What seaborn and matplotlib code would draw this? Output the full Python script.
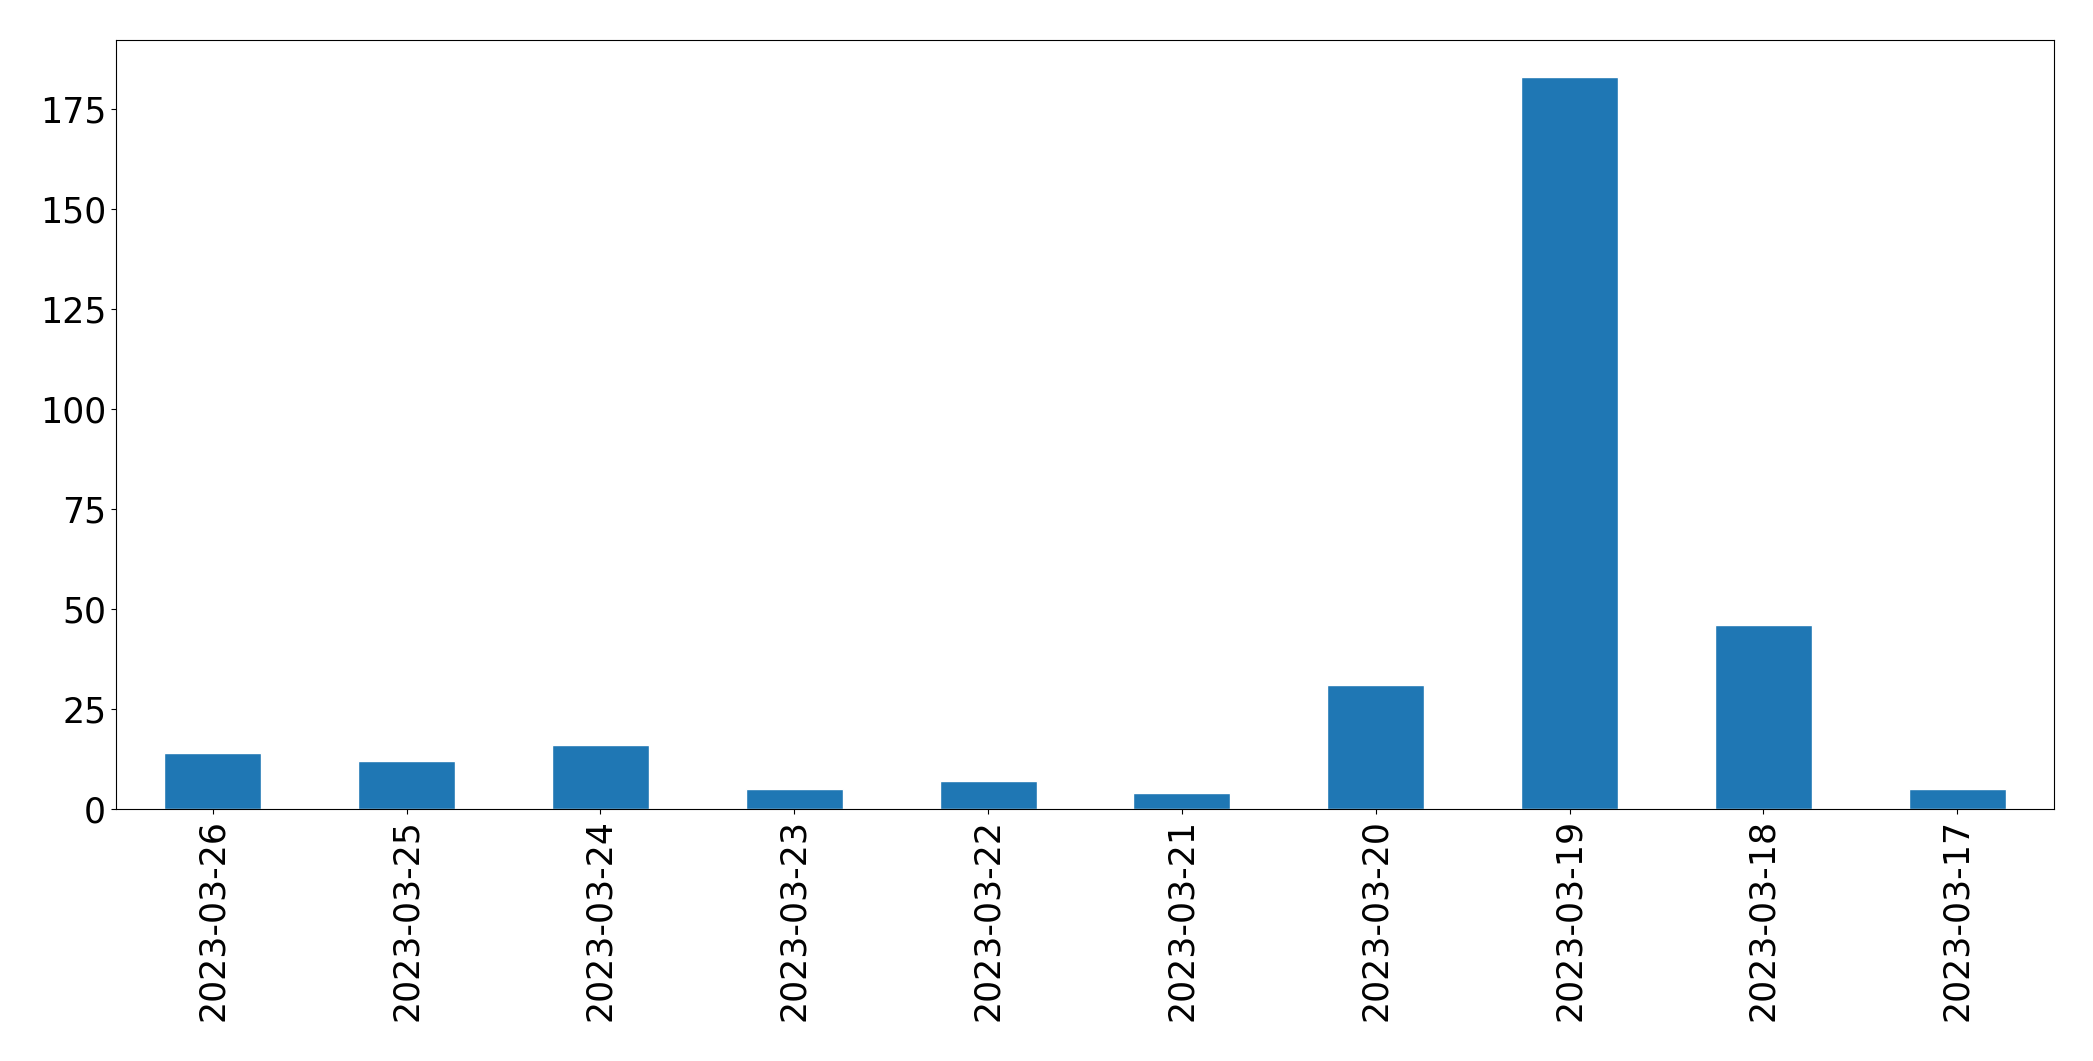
import pandas as pd
import numpy as np

import matplotlib.pyplot as plt
import seaborn as sns


plt.style.use("default")
sns.set_style("ticks", {"axes.edgecolor": "black", "xtick.color": "black",
                        "ytick.color": "black", "text.color": "black"})
plt.rcParams["font.family"] = ["DejaVu Sans"]

dates = ["2023-03-26", "2023-03-25", "2023-03-24", "2023-03-23", "2023-03-22",
         "2023-03-21", "2023-03-20", "2023-03-19", "2023-03-18", "2023-03-17"]
counts = [14, 12, 16, 5, 7, 4, 31, 183, 46, 5]

df = pd.DataFrame({"date": dates, "count": counts})

fig = plt.figure(figsize=(20.93, 10.61), dpi=100)
ax = fig.add_axes([0.0554, 0.2375, 0.9814 - 0.0554, 0.9623 - 0.2375])
sns.barplot(data=df, x="date", y="count", order=dates,
            color="#1f77b4", saturation=1, width=0.5, ax=ax)
ax.set_xlim(-0.5, len(dates) - 0.5)
ax.set_ylim(0, max(counts) * 1.05)
ax.set_xlabel("")
ax.set_ylabel("")
ax.tick_params(axis="both", labelsize=25, colors="black", labelcolor="black")
plt.xticks(rotation=90)
for s in ax.spines.values():
    s.set_visible(True)
    s.set_color("black")
    s.set_linewidth(0.8)

fig.savefig("out.png", dpi=100)
